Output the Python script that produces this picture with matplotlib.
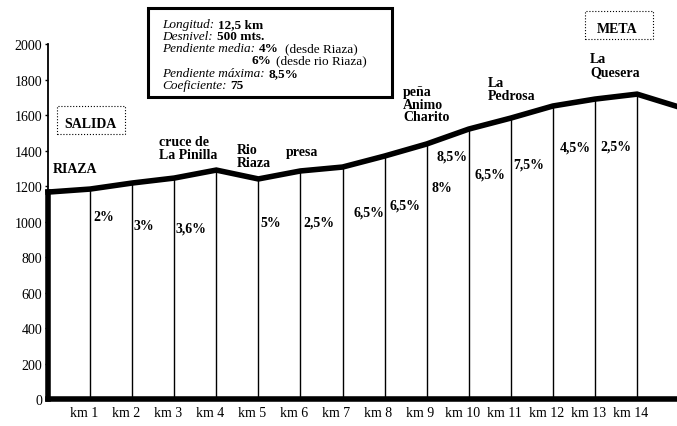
import matplotlib.pyplot as plt
from matplotlib.patches import Rectangle

# profile data (km from start, altitude in m)
km = [0, 1, 2, 3, 4, 5, 6, 7, 8, 9, 10, 11, 12, 13, 14, 15]
altitude = [1166, 1183, 1217, 1245, 1290, 1240, 1285, 1307, 1369, 1437,
            1521, 1583, 1651, 1690, 1718, 1645]

km_labels = ["km %d" % i for i in range(1, 15)]
y_ticks = list(range(0, 2001, 200))

# gradient labels
grade_text = ["2%", "3%", "3,6%", "5%", "2,5%", "6,5%", "6,5%", "8%", "8,5%",
              "6,5%", "7,5%", "4,5%", "2,5%"]
grade_x = [1.33, 2.28, 3.40, 5.30, 6.45, 7.63, 8.48, 9.37, 9.60,
           10.51, 11.43, 12.53, 13.50]
grade_y = [1031, 980, 963, 997, 997, 1054, 1093, 1189, 1369,
           1268, 1324, 1420, 1425]

# place names
place_text = ["RIAZA", "cruce de\nLa Pinilla", "Rio\nRiaza", "presa",
              "peña\nAnimo\nCharito", "La\nPedrosa", "La\nQuesera"]
place_x = [0.12, 3.33, 4.49, 6.04, 8.44, 10.46, 12.88]
place_y = [1301, 1414, 1369, 1392, 1662, 1747, 1882]
place_ha = ["left", "center", "left", "center", "left", "left", "left"]

# info box
info_labels = ["Longitud:", "Desnivel:", "Pendiente media:", "",
               "Pendiente máxima:", "Coeficiente:"]
info_values = ["12,5 km", "500 mts.", "4%", "6%", "8,5%", "75"]
info_notes = ["", "", "(desde Riaza)", "(desde rio Riaza)", "", ""]

W, H = 677, 427
plt.rcParams["font.family"] = ["Liberation Serif", "DejaVu Serif"]

fig = plt.figure(figsize=(W / 100, H / 100), dpi=100)
fig.patch.set_facecolor("white")


def fx(px):
    return px / W


def fy(py):
    return 1 - py / H


ax = fig.add_axes([fx(48), 27 / H, 629 / W, 400 / H])
ax.set_xlim(0, 14.95)
ax.set_ylim(0, 2254)
for s in ax.spines.values():
    s.set_visible(False)

# verticals at every km
ax.vlines(km[1:], 0, altitude[1:], colors="black", lw=1.0)
# left axis: thin above profile, thick below
ax.plot([0, 0], [altitude[0], 2000], color="black", lw=1.3, clip_on=False)
ax.plot([0, 0], [0, altitude[0]], color="black", lw=4, clip_on=False,
        solid_capstyle="projecting")
ax.plot([0, 15], [0, 0], color="black", lw=4, clip_on=False,
        solid_capstyle="projecting")
# profile
ax.plot(km, altitude, color="black", lw=4, solid_joinstyle="miter",
        clip_on=False)

ax.set_yticks(y_ticks)
ax.set_yticklabels([str(v) for v in y_ticks])
ax.tick_params(axis="y", length=2, width=1, pad=2, labelsize=10)
ax.set_xticks([k - 0.15 for k in km[1:15]])
ax.set_xticklabels(km_labels)
ax.tick_params(axis="x", length=0, pad=5, labelsize=10)

for t, x, y in zip(grade_text, grade_x, grade_y):
    ax.text(x, y, t, ha="center", va="center", fontsize=10, fontweight="bold")

for t, x, y, ha in zip(place_text, place_x, place_y, place_ha):
    ax.text(x, y, t, ha=ha, va="center", fontsize=10, fontweight="bold",
            linespacing=0.95, multialignment="left")

# SALIDA / META dotted boxes
ax.text(1.02, 1555, "SALIDA", ha="center", va="center", fontsize=10,
        fontweight="bold")
fig.add_artist(Rectangle((fx(57), fy(135)), fx(125) - fx(57), fy(107) - fy(135),
                         fill=False, ls=":", lw=0.8, ec="black"))
ax.text(13.52, 2090, "META", ha="center", va="center", fontsize=10,
        fontweight="bold", clip_on=False)
fig.add_artist(Rectangle((fx(585), fy(40)), fx(653) - fx(585), fy(12) - fy(40),
                         fill=False, ls=":", lw=0.8, ec="black"))

# info box
fig.add_artist(Rectangle((fx(148), fy(98)), fx(392) - fx(148), fy(9) - fy(98),
                         fill=False, lw=2.2, ec="black"))
line_y = [25, 37, 49, 61, 74, 86]
for lab, val, note, py in zip(info_labels, info_values, info_notes, line_y):
    if lab:
        prev = fig.text(fx(162), fy(py), lab, ha="left", va="center",
                        fontsize=9.5, style="italic")
        prev = ax.annotate(val, xy=(1, 0), xycoords=prev, xytext=(3, 0),
                           textcoords="offset points", ha="left", va="bottom",
                           fontsize=9.5, fontweight="bold",
                           annotation_clip=False)
    else:
        prev = fig.text(fx(251), fy(py), val, ha="left", va="center",
                        fontsize=9.5, fontweight="bold")
    if note:
        ax.annotate(note, xy=(1, 0), xycoords=prev, xytext=(4, 0),
                    textcoords="offset points", ha="left", va="bottom",
                    fontsize=9.5, annotation_clip=False)

fig.savefig("out.png", dpi=100)
